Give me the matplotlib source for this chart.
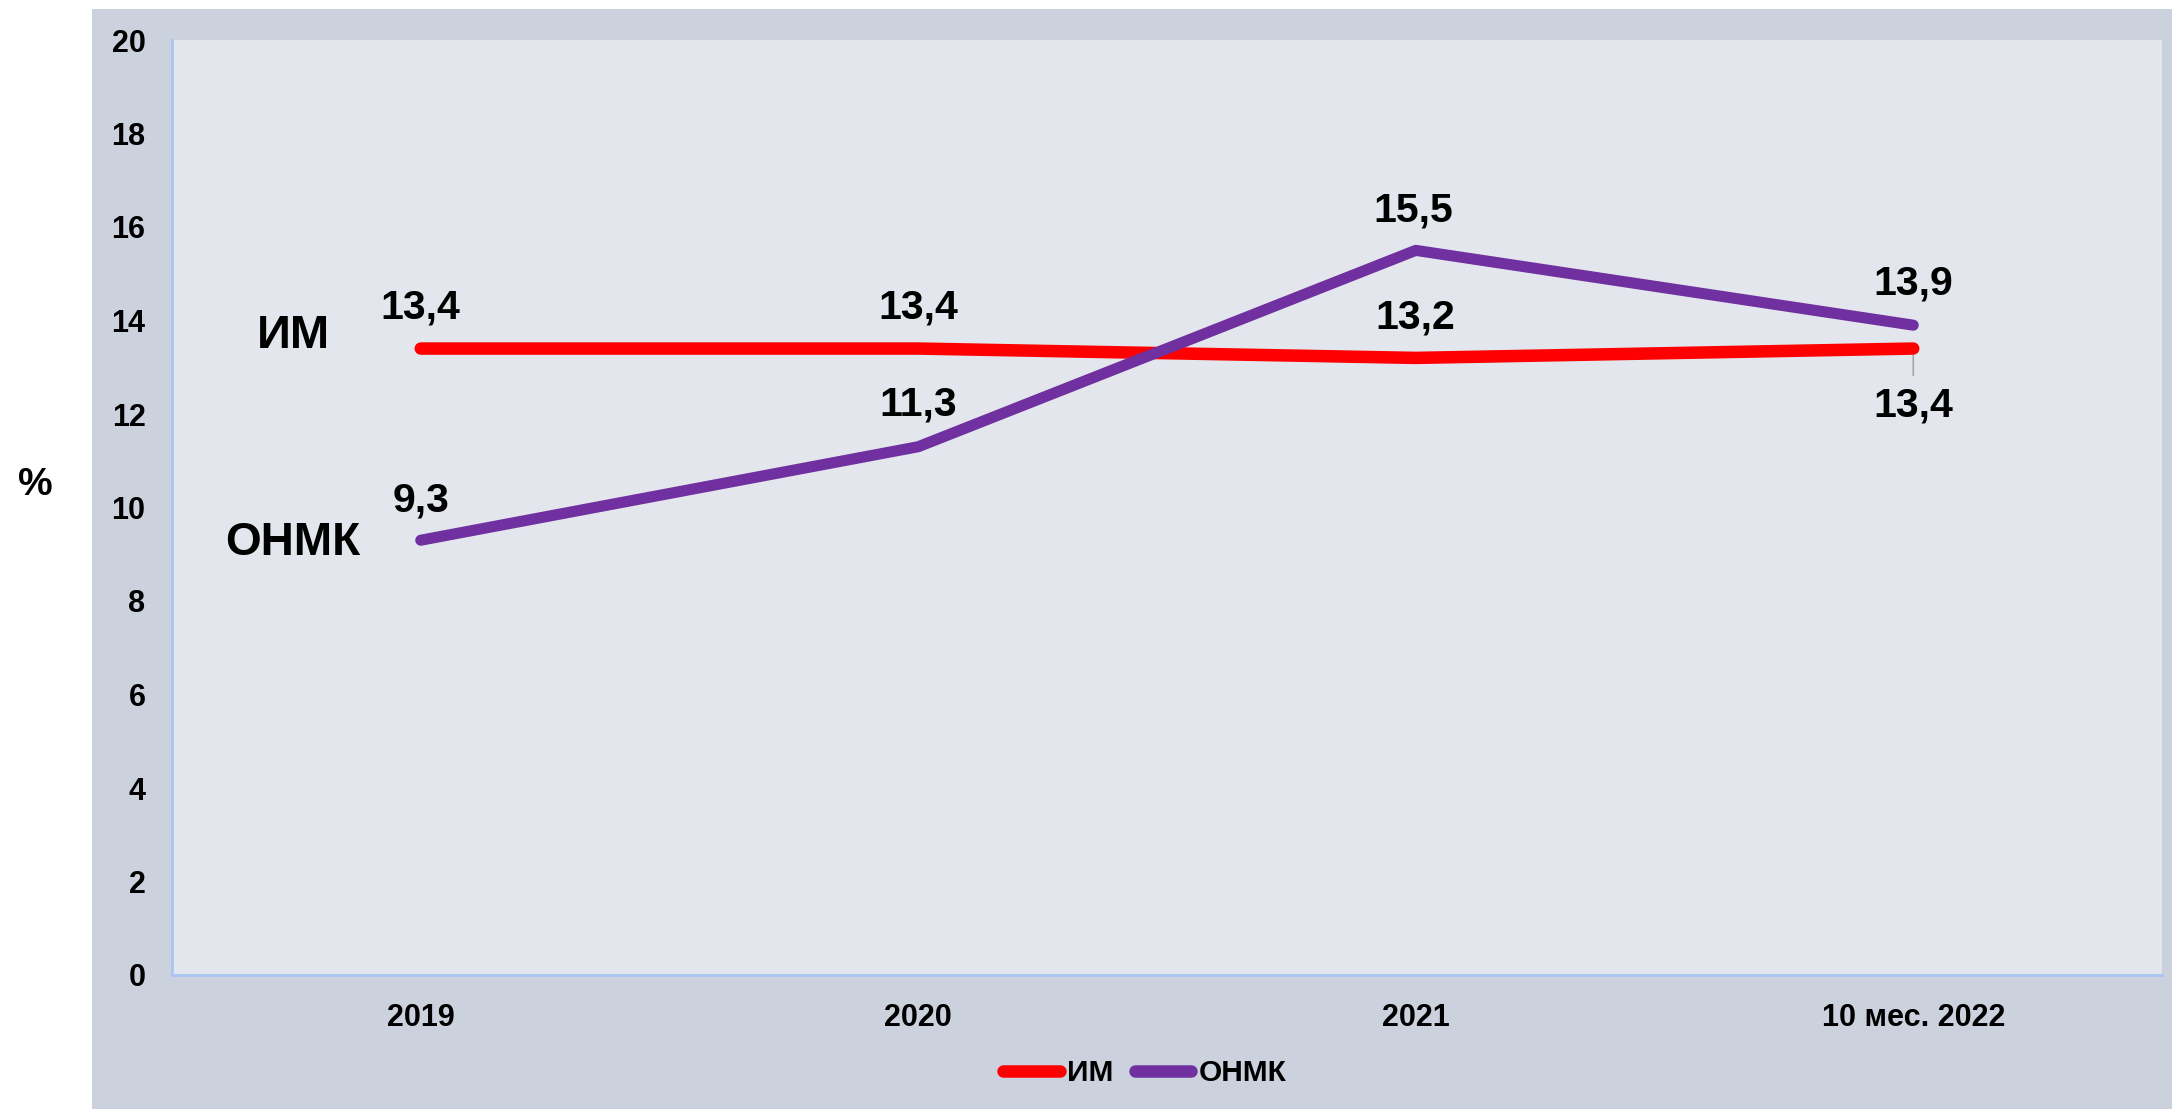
import matplotlib
matplotlib.use("Agg")
import matplotlib.pyplot as plt
from matplotlib.patches import Rectangle
from matplotlib.lines import Line2D

categories = ["2019", "2020", "2021", "10 мес. 2022"]
im_values = [13.4, 13.4, 13.2, 13.4]
onmk_values = [9.3, 11.3, 15.5, 13.9]
series_names = ["ИМ", "ОНМК"]
y_ticks = [0, 2, 4, 6, 8, 10, 12, 14, 16, 18, 20]

plt.rcParams['font.family'] = ['Liberation Sans', 'DejaVu Sans']
plt.rcParams['font.weight'] = 'bold'

W, H = 2172, 1109
fig = plt.figure(figsize=(W / 100, H / 100), dpi=100)
fig.patch.set_facecolor('white')
bg = Rectangle((92 / W, 0), 1 - 92 / W, (H - 9) / H,
               transform=fig.transFigure, facecolor='#cbd1dd',
               edgecolor='none', zorder=-10)
fig.add_artist(bg)

ax = fig.add_axes([172 / W, (H - 975) / H, 1990 / W, 935 / H])
ax.set_zorder(1)
ax.set_facecolor('#e3e7ed')
x = list(range(len(categories)))

red = '#ff0000'
purple = '#7030a0'
ax.plot(x, im_values, color=red, lw=9, solid_capstyle='round', zorder=3)
ax.plot(x, onmk_values, color=purple, lw=8, solid_capstyle='round', zorder=4)

ax.set_xlim(-0.5, 3.5)
ax.set_ylim(0, 20)
ax.set_yticks(y_ticks)
ax.set_yticklabels([str(t) for t in y_ticks])
ax.set_xticks(x)
ax.set_xticklabels(categories)
ax.tick_params(axis='both', length=0, labelsize=22)
ax.tick_params(axis='y', pad=19)
ax.tick_params(axis='x', pad=20)
for lab in ax.get_xticklabels() + ax.get_yticklabels():
    lab.set_fontweight('bold')

for s in ['top', 'right']:
    ax.spines[s].set_visible(False)
for s in ['left', 'bottom']:
    ax.spines[s].set_color('#a9c5f3')
    ax.spines[s].set_linewidth(2)


def fmt(v):
    return f"{v:.1f}".replace('.', ',')


lab_fs = 29.5
# ИМ labels (pixel offsets from point)
im_offsets = [(0, 41), (0, 41), (0, 40), (0, -57)]
for xi, v, (dx, dy) in zip(x, im_values, im_offsets):
    ax.annotate(fmt(v), (xi, v), xytext=(dx, dy), textcoords='offset pixels',
                ha='center', va='center', fontsize=lab_fs, fontweight='bold', zorder=6)
# leader line for last ИМ label
ax.annotate('', xy=(x[-1], im_values[-1]), xytext=(0, -27), textcoords='offset pixels',
            arrowprops=dict(arrowstyle='-', color='#a6a6a6', lw=1.2, shrinkA=0, shrinkB=0),
            zorder=2)

onmk_offsets = [(0, 40), (0, 42), (-3, 40), (0, 42)]
for xi, v, (dx, dy) in zip(x, onmk_values, onmk_offsets):
    ax.annotate(fmt(v), (xi, v), xytext=(dx, dy), textcoords='offset pixels',
                ha='center', va='center', fontsize=lab_fs, fontweight='bold', zorder=6)

# series name labels on the left
fig.text(293 / W, 1 - 336 / H, series_names[0], ha='center', va='center',
         fontsize=34, fontweight='bold', zorder=5)
fig.text(293 / W, 1 - 543 / H, series_names[1], ha='center', va='center',
         fontsize=33, fontweight='bold', zorder=5)

# axis unit
fig.text(35 / W, 1 - 485 / H, '%', ha='center', va='center', fontsize=28, fontweight='bold')

handles = [Line2D([], [], color=red, lw=9, solid_capstyle='round'),
           Line2D([], [], color=purple, lw=9, solid_capstyle='round')]
leg = fig.legend(handles, series_names, loc='center', ncol=2,
                 bbox_to_anchor=(1145 / W, 1 - 1073 / H), frameon=False,
                 handlelength=1.9, handletextpad=0.25,
                 columnspacing=0.7, prop={'weight': 'bold', 'size': 21.5})

fig.savefig('out.png', dpi=100, facecolor=fig.get_facecolor())
